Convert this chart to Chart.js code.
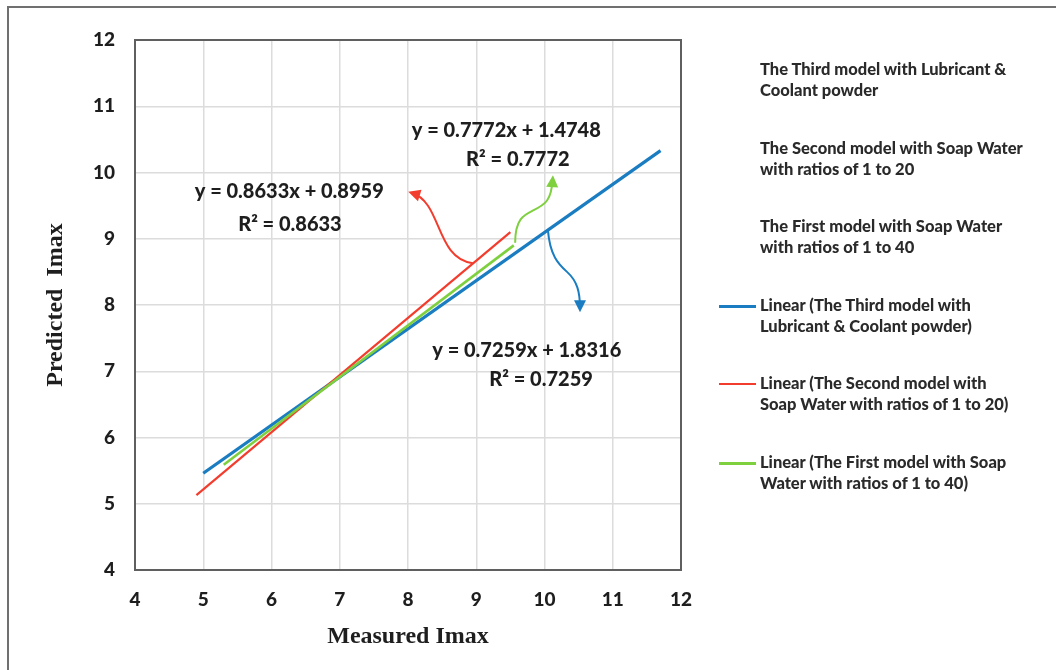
<!DOCTYPE html>
<html>
<head>
<meta charset="utf-8">
<title>Predicted vs Measured Imax</title>
<script src="https://cdn.jsdelivr.net/npm/chart.js@4.4.1/dist/chart.umd.min.js"></script>
<style>
  html, body { margin: 0; padding: 0; background: #fff; overflow: hidden; }
  #wrap { position: relative; width: 1056px; height: 670px; }
  #frame { position: absolute; left: 7px; top: 6px; width: 1100px; height: 700px;
           border-left: 2px solid #707070; border-top: 2px solid #707070; }
  #chart { position: absolute; left: 0; top: 0; }
  #legend { position: absolute; left: 719px; top: 59px; width: 330px;
            font: 900 16.5px Lato, sans-serif; color: #2a2a2a; }
  .item { display: flex; align-items: flex-start; height: 78.6px; }
  .swatch { flex: none; width: 37px; margin: 10px 4px 0 0; }
  .text { width: 265px; line-height: 21px; }
</style>
</head>
<body>
<div id="wrap">
  <div id="frame"></div>
  <canvas id="chart" width="1056" height="670"></canvas>
  <div id="legend"></div>
</div>
<script>
// series names (the marker series themselves are not visible in the picture)
const seriesLabels = [
  'The Third model with Lubricant & Coolant powder',
  'The Second model with Soap Water with ratios of 1 to 20',
  'The First model with Soap Water with ratios of 1 to 40',
];

// trend line end points
const thirdX = [5.0, 11.7];
const thirdY = [5.46, 10.33];
const secondX = [4.9, 9.5];
const secondY = [5.13, 9.10];
const firstX = [5.3, 9.55];
const firstY = [5.59, 8.90];

// regression equations shown on the chart
const slopes = ['0.7259', '0.8633', '0.7772'];
const intercepts = ['1.8316', '0.8959', '1.4748'];
const rSquared = ['0.7259', '0.8633', '0.7772'];

const tickValues = [4, 5, 6, 7, 8, 9, 10, 11, 12];

const COLORS = ['#1a7cc1', '#f23d2e', '#7ed03f'];
const WIDTHS = [3.2, 2.2, 2.6];

const toPoints = (xs, ys) => xs.map((x, i) => ({ x, y: ys[i] }));
const trendPoints = [toPoints(thirdX, thirdY), toPoints(secondX, secondY), toPoints(firstX, firstY)];

// equation label placement (data units) and curved arrow paths
const equationPos = [
  [[9.74, 7.32], [9.95, 6.87]],
  [[6.26, 9.71], [6.27, 9.22]],
  [[9.44, 10.64], [9.61, 10.19]],
];
const arrowPaths = [
  [[10.05, 9.13], [10.08, 8.75], [10.20, 8.62], [10.33, 8.50], [10.48, 8.36], [10.52, 8.20], [10.52, 7.95]],
  [[8.95, 8.63], [8.40, 8.70], [8.50, 9.55], [8.06, 9.69]],
  [[9.57, 8.94], [9.57, 9.30], [9.70, 9.36], [9.82, 9.42], [10.02, 9.52], [10.10, 9.58], [10.12, 9.90]],
];

// Legend (html, so long names can wrap like the original)
const legendEl = document.getElementById('legend');
const legendRows = seriesLabels.map((l) => ({ text: l, color: null }))
  .concat(seriesLabels.map((l, i) => ({ text: `Linear (${l})`, color: COLORS[i], width: WIDTHS[i] })));
legendRows.forEach((row) => {
  const item = document.createElement('div');
  item.className = 'item';
  const sw = document.createElement('div');
  sw.className = 'swatch';
  if (row.color) {
    sw.style.height = `${Math.round(row.width)}px`;
    sw.style.background = row.color;
  }
  const tx = document.createElement('div');
  tx.className = 'text';
  tx.textContent = row.text;
  item.appendChild(sw);
  item.appendChild(tx);
  legendEl.appendChild(item);
});

const annotationPlugin = {
  id: 'annotations',
  afterDatasetsDraw(chart) {
    const { ctx, chartArea, scales: { x, y } } = chart;
    const px = (p) => [x.getPixelForValue(p[0]), y.getPixelForValue(p[1])];

    ctx.save();
    // plot frame
    ctx.strokeStyle = '#5f5f5f';
    ctx.lineWidth = 2;
    ctx.strokeRect(chartArea.left, chartArea.top, chartArea.right - chartArea.left, chartArea.bottom - chartArea.top);

    // curved arrows
    arrowPaths.forEach((path, i) => {
      const pts = path.map(px);
      ctx.strokeStyle = COLORS[i];
      ctx.fillStyle = COLORS[i];
      ctx.lineWidth = 2;
      ctx.beginPath();
      ctx.moveTo(pts[0][0], pts[0][1]);
      for (let k = 1; k + 2 < pts.length; k += 3) {
        ctx.bezierCurveTo(pts[k][0], pts[k][1], pts[k + 1][0], pts[k + 1][1], pts[k + 2][0], pts[k + 2][1]);
      }
      ctx.stroke();
      const end = pts[pts.length - 1];
      const prev = pts[pts.length - 2];
      const ang = Math.atan2(end[1] - prev[1], end[0] - prev[0]);
      ctx.beginPath();
      ctx.moveTo(end[0] + Math.cos(ang) * 4, end[1] + Math.sin(ang) * 4);
      ctx.lineTo(end[0] - Math.cos(ang) * 8 + Math.sin(ang) * 6, end[1] - Math.sin(ang) * 8 - Math.cos(ang) * 6);
      ctx.lineTo(end[0] - Math.cos(ang) * 8 - Math.sin(ang) * 6, end[1] - Math.sin(ang) * 8 + Math.cos(ang) * 6);
      ctx.closePath();
      ctx.fill();
    });

    // equations
    ctx.fillStyle = '#1e1e1e';
    ctx.font = '900 20px Lato, sans-serif';
    ctx.textAlign = 'center';
    ctx.textBaseline = 'middle';
    equationPos.forEach((pos, i) => {
      const p1 = px(pos[0]);
      const p2 = px(pos[1]);
      ctx.fillText(`y = ${slopes[i]}x + ${intercepts[i]}`, p1[0], p1[1]);
      ctx.fillText(`R² = ${rSquared[i]}`, p2[0], p2[1]);
    });
    ctx.restore();
  },
};

const tickFont = { family: 'Lato, sans-serif', size: 19, weight: '900' };
const titleFont = { family: '"Liberation Serif", serif', size: 24, weight: '700' };

new Chart(document.getElementById('chart'), {
  type: 'scatter',
  data: {
    datasets: trendPoints.map((pts, i) => ({
      label: `Linear (${seriesLabels[i]})`,
      data: pts,
      showLine: true,
      borderColor: COLORS[i],
      backgroundColor: COLORS[i],
      borderWidth: WIDTHS[i],
      pointRadius: 0,
      order: [3, 2, 1][i],
    })),
  },
  options: {
    responsive: false,
    devicePixelRatio: 1,
    animation: false,
    layout: { padding: { left: 0, top: 40, right: 375, bottom: 0 } },
    plugins: {
      legend: { display: false },
      tooltip: { enabled: false },
    },
    scales: {
      x: {
        type: 'linear',
        min: 4,
        max: 12,
        afterBuildTicks: (scale) => { scale.ticks = tickValues.map((v) => ({ value: v })); },
        afterFit: (scale) => { scale.height = 100; },
        grid: { color: '#dcdcdc', lineWidth: 1.5, drawTicks: false },
        border: { display: false },
        ticks: { color: '#1e1e1e', font: tickFont, padding: 18 },
        title: { display: true, text: 'Measured Imax', color: '#1e1e1e', font: titleFont, padding: { top: 0, bottom: 19 } },
      },
      y: {
        type: 'linear',
        min: 4,
        max: 12,
        afterBuildTicks: (scale) => { scale.ticks = tickValues.map((v) => ({ value: v })); },
        afterFit: (scale) => { scale.width = 135; },
        grid: { color: '#dcdcdc', lineWidth: 1.5, drawTicks: false },
        border: { display: false },
        ticks: { color: '#1e1e1e', font: tickFont, padding: 20 },
        title: { display: true, text: 'Predicted  Imax', color: '#1e1e1e', font: titleFont, padding: { top: 41, bottom: 0 } },
      },
    },
  },
  plugins: [annotationPlugin],
});
</script>
</body>
</html>
